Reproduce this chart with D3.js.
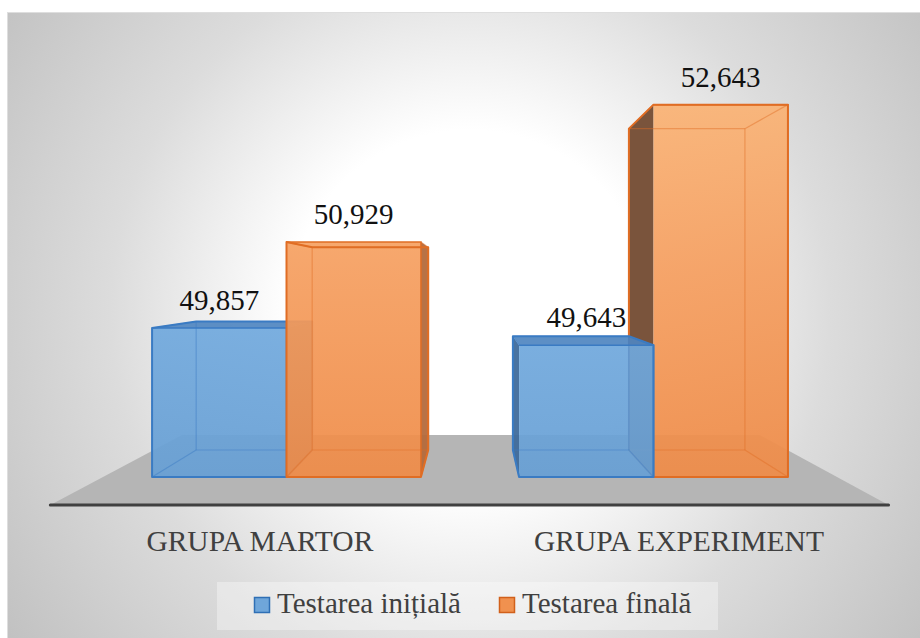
<!DOCTYPE html>
<html>
<head>
<meta charset="utf-8">
<script src="https://cdn.jsdelivr.net/npm/d3@7"></script>
<style>
  html, body { margin: 0; padding: 0; background: #fff; }
  svg { display: block; }
  text { font-family: "Liberation Serif", "Times New Roman", serif; }
</style>
</head>
<body>
<svg id="chart" width="920" height="638"></svg>
<script>
const categories   = ["GRUPA MARTOR", "GRUPA EXPERIMENT"];
const seriesNames  = ["Testarea inițială", "Testarea finală"];
const initialVals  = [49.857, 49.643];
const finalVals    = [50.929, 52.643];
const seriesValues = [initialVals, finalVals];

const svg = d3.select("#chart");
const width  = +svg.attr("width");
const height = +svg.attr("height");

// perspective: vanishing point + depth factors (front plane of bars = 1)
const vp = { x: 474, y: 280 };
const depth = { floorFront: 1.142, barFront: 1, barBack: 0.863, floorBack: 0.787 };
const proj = (x, y, f) => [vp.x + (x - vp.x) * f, vp.y + (y - vp.y) * f];

const x0 = d3.scaleBand().domain(categories).range([103, 837]);
const x1 = d3.scaleBand().domain(seriesNames).range([0, x0.bandwidth()])
  .paddingInner(0).paddingOuter(0.365);
const y  = d3.scaleLinear().domain([48, 53]).range([477, 76]);

const fmt = d3.formatLocale({ decimal: ",", thousands: ".", grouping: [3], currency: ["", ""] }).format(".3f");

const styles = {
  "Testarea inițială": {
    front: "url(#gBlue)", top: "#4f86c0", left: "#3f6c9c", right: "#4a7db3",
    edge: "#3a7bc3", swatch: "#6fa6da", swatchEdge: "#2f6fb5"
  },
  "Testarea finală": {
    front: "url(#gOrange)", top: "#d9773a", left: "#734b31", right: "#b46a3c",
    edge: "#e06d24", swatch: "#f0914f", swatchEdge: "#d1601b"
  }
};

// background
const defs = svg.append("defs");
const bg = defs.append("radialGradient").attr("id", "bg")
  .attr("gradientUnits", "userSpaceOnUse")
  .attr("cx", 470).attr("cy", 310).attr("r", 600);
[[0, "#ffffff"], [0.3, "#ffffff"], [0.6, "#dcdcdc"], [1, "#bdbdbd"]]
  .forEach(([o, c]) => bg.append("stop").attr("offset", o).attr("stop-color", c));

const gO = defs.append("linearGradient").attr("id", "gOrange")
  .attr("gradientUnits", "userSpaceOnUse").attr("x1", 0).attr("x2", 0).attr("y1", 100).attr("y2", 480);
gO.append("stop").attr("offset", 0).attr("stop-color", "#fab375");
gO.append("stop").attr("offset", 0.45).attr("stop-color", "#f59e5f");
gO.append("stop").attr("offset", 1).attr("stop-color", "#ef8b47");
const gB = defs.append("linearGradient").attr("id", "gBlue")
  .attr("gradientUnits", "userSpaceOnUse").attr("x1", 0).attr("x2", 0).attr("y1", 300).attr("y2", 480);
gB.append("stop").attr("offset", 0).attr("stop-color", "#73abdf");
gB.append("stop").attr("offset", 1).attr("stop-color", "#679fd4");

svg.append("rect")
  .attr("x", 7.5).attr("y", 12.5).attr("width", width).attr("height", height)
  .attr("fill", "url(#bg)").attr("stroke", "#dedede").attr("stroke-width", 1);

// floor
const [fx0, fx1] = x0.range();
const base = y.range()[0];
const floorPts = [
  proj(fx0, base, depth.floorFront), proj(fx1, base, depth.floorFront),
  proj(fx1, base, depth.floorBack),  proj(fx0, base, depth.floorBack)
];
svg.append("polygon").attr("points", floorPts.join(" ")).attr("fill", "#b5b5b5");
svg.append("line")
  .attr("x1", floorPts[0][0]).attr("y1", floorPts[0][1])
  .attr("x2", floorPts[1][0]).attr("y2", floorPts[1][1])
  .attr("stroke", "#404040").attr("stroke-width", 3).attr("stroke-linecap", "round");

// bars
const bars = [];
categories.forEach((c, ci) => {
  seriesNames.forEach((s, si) => {
    const v = seriesValues[si][ci];
    const xa = x0(c) + x1(s), xb = xa + x1.bandwidth();
    bars.push({ c, s, v, xa, xb, top: y(v), base });
  });
});
// paint farthest from the vanishing point first
bars.sort((a, b) => Math.abs((b.xa + b.xb) / 2 - vp.x) - Math.abs((a.xa + a.xb) / 2 - vp.x));

const poly = (g, pts, fill, op) => g.append("polygon")
  .attr("points", pts.map(p => p.join(",")).join(" "))
  .attr("fill", fill).attr("fill-opacity", op);

bars.forEach(d => {
  const st = styles[d.s];
  const g = svg.append("g");
  const F = {
    tl: [d.xa, d.top], tr: [d.xb, d.top], bl: [d.xa, d.base], br: [d.xb, d.base]
  };
  const B = {
    tl: proj(d.xa, d.top, depth.barBack), tr: proj(d.xb, d.top, depth.barBack),
    bl: proj(d.xa, d.base, depth.barBack), br: proj(d.xb, d.base, depth.barBack)
  };
  const leftOfVp = (d.xa + d.xb) / 2 < vp.x;
  // visible side face
  if (leftOfVp) poly(g, [F.tr, B.tr, B.br, F.br], st.right, 0.95);
  else          poly(g, [F.tl, B.tl, B.bl, F.bl], st.left, 0.95);
  // top face seen from above
  if (d.top > vp.y) poly(g, [F.tl, F.tr, B.tr, B.tl], st.top, 0.92);
  // translucent front
  poly(g, [F.tl, F.tr, F.br, F.bl], st.front, 0.93);
  // hidden edges showing through
  const hidden = [[B.tl, B.tr], [B.tr, B.br], [B.br, B.bl], [B.bl, B.tl], [F.bl, B.bl], [F.br, B.br], [F.tl, B.tl], [F.tr, B.tr]];
  hidden.forEach(([p, q]) => g.append("line")
    .attr("x1", p[0]).attr("y1", p[1]).attr("x2", q[0]).attr("y2", q[1])
    .attr("stroke", st.edge).attr("stroke-opacity", 0.45).attr("stroke-width", 1.2));
  // outline
  const outline = leftOfVp
    ? [F.tl, B.tl, B.tr, B.br, F.br, F.bl]
    : (d.top > vp.y ? [F.bl, B.bl, B.tl, B.tr, F.tr, F.br] : [F.bl, B.bl, B.tl, F.tl, F.tr, F.br]);
  g.append("polygon").attr("points", outline.map(p => p.join(",")).join(" "))
    .attr("fill", "none").attr("stroke", st.edge).attr("stroke-width", 2).attr("stroke-linejoin", "round");
  g.append("polyline").attr("points", [F.tl, F.tr, F.br].map(p => p.join(",")).join(" "))
    .attr("fill", "none").attr("stroke", st.edge).attr("stroke-width", 1.5);
});

// data labels
bars.forEach(d => {
  svg.append("text")
    .attr("x", (d.xa + d.xb) / 2).attr("y", d.top - 18)
    .attr("text-anchor", "middle")
    .attr("font-size", 29).attr("fill", "#111")
    .text(fmt(d.v));
});

// category labels
categories.forEach(c => {
  const [cx] = proj(x0(c) + x0.bandwidth() / 2, base, depth.floorFront);
  svg.append("text")
    .attr("x", cx).attr("y", 551)
    .attr("text-anchor", "middle")
    .attr("font-size", 29.5).attr("fill", "#404040")
    .text(c);
});

// legend
svg.append("rect")
  .attr("x", 217).attr("y", 582).attr("width", 501).attr("height", 48)
  .attr("fill", "#ffffff").attr("fill-opacity", 0.35);
const legendX = d3.scalePoint().domain(seriesNames).range([254, 499]);
seriesNames.forEach(s => {
  const lg = svg.append("g").attr("transform", `translate(${legendX(s)},597)`);
  lg.append("rect").attr("x", 0.5).attr("y", 0.5).attr("width", 15).attr("height", 15)
    .attr("fill", styles[s].swatch).attr("stroke", styles[s].swatchEdge).attr("stroke-width", 1.5);
  lg.append("text").attr("x", 23).attr("y", 16)
    .attr("font-size", 29).attr("fill", "#404040")
    .text(s);
});
</script>
</body>
</html>
